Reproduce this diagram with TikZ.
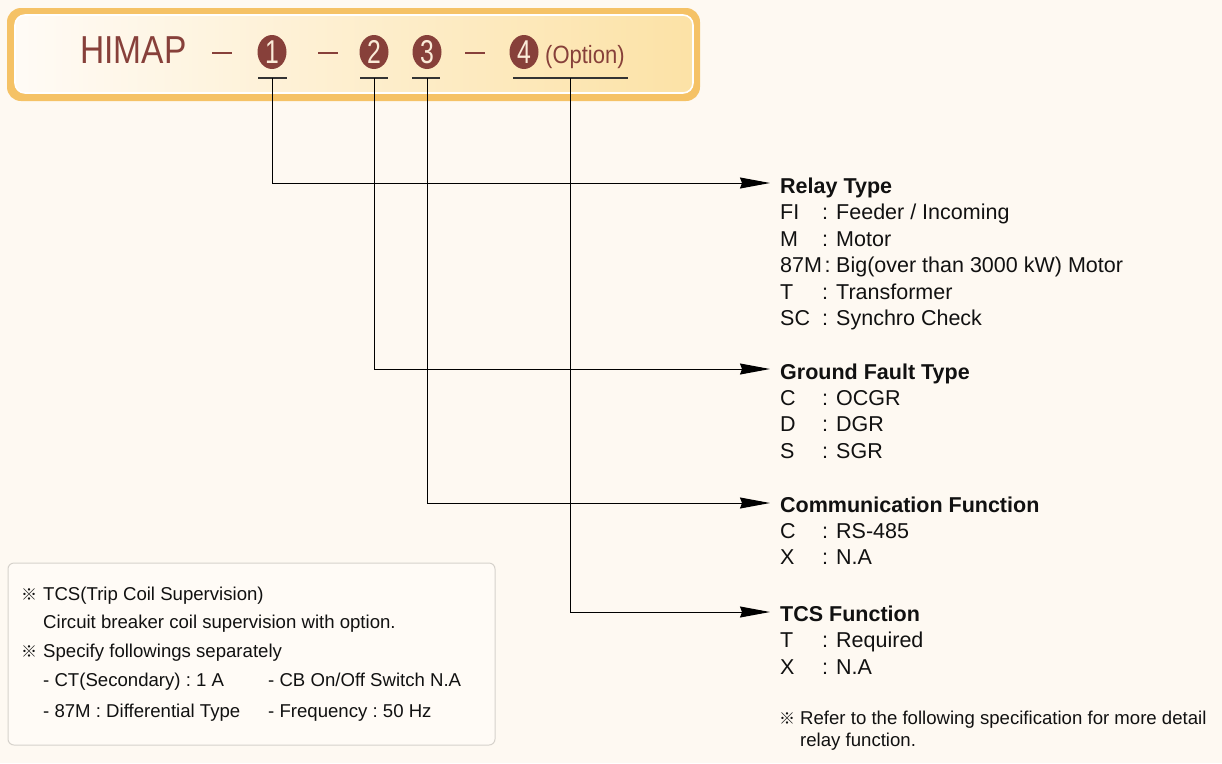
\documentclass[tikz,border=0pt]{standalone}
\usepackage{fontspec}
\usepackage{graphicx}
\setmainfont{Liberation Sans}
\newfontfamily\cjkf{Noto Sans CJK SC}
\usetikzlibrary{arrows.meta,shapes.geometric}
\frenchspacing
\definecolor{bgc}{HTML}{FEF9F2}
\definecolor{brn}{HTML}{87403A}
\definecolor{orng}{HTML}{F5C266}
\definecolor{cream}{HTML}{FBEBD8}
\definecolor{pale}{HTML}{FFFBF6}
\definecolor{yel}{HTML}{FCE2A6}
\definecolor{boxline}{HTML}{D6D2CC}
\definecolor{txt}{HTML}{111111}
\tikzset{
  txtnode/.style={anchor=base west, inner sep=0pt, text=txt},
  big/.style={txtnode, font=\fontsize{21.5}{23}\selectfont},
  bigb/.style={txtnode, font=\fontsize{21.5}{23}\selectfont\bfseries},
  small/.style={txtnode, font=\fontsize{18.6}{20}\selectfont},
  refmark/.style={txtnode, font=\fontsize{16}{18}\selectfont\cjkf},
  num/.style={ellipse, fill=brn, minimum width=29pt, minimum height=34pt, inner sep=0pt, text=cream, font=\fontsize{33}{33}\selectfont},
  uline/.style={draw=black!80, line width=1.1pt},
  conn/.style={draw=black, line width=1pt, -{Stealth[length=30pt,width=11pt,inset=2pt]}},
  dashl/.style={draw=brn, line width=1.8pt}
}
\begin{document}
\begin{tikzpicture}[x=1pt,y=-1pt]
\useasboundingbox (0,0) rectangle (1222,763);
\fill[bgc] (0,0) rectangle (1222,763);
% title frame
\fill[orng, rounded corners=14pt] (7,8) rectangle (700,101);
\draw[white, line width=1.6pt, left color=pale, right color=yel, rounded corners=10pt] (15,15) rectangle (693,93);
\node[anchor=base west, inner sep=0pt, text=brn, font=\fontsize{39}{40}\selectfont] (himap) at (80,63) {\scalebox{0.86}[1]{HIMAP}};
\draw[dashl] (212,53) -- (232,53);
\draw[dashl] (318,53) -- (338,53);
\draw[dashl] (465,53) -- (485,53);
\node[num] (c1) at (272,52) {\scalebox{0.75}[1]{1}};
\node[num] (c2) at (374,52) {\scalebox{0.75}[1]{2}};
\node[num] (c3) at (427,52) {\scalebox{0.75}[1]{3}};
\node[num] (c4) at (524,52) {\scalebox{0.75}[1]{4}};
\node[anchor=base west, inner sep=0pt, text=brn, font=\fontsize{25}{26}\selectfont] (opt) at (545,63) {\scalebox{0.88}[1]{(Option)}};
% underlines
\draw[uline] (258,78) -- (287,78);
\draw[uline] (360,78) -- (388,78);
\draw[uline] (412,78) -- (440,78);
\draw[uline] (513,78) -- (628,78);
\coordinate (u1) at (272,78);
\coordinate (u2) at (374,78);
\coordinate (u3) at (427,78);
\coordinate (u4) at (570,78);
\coordinate (a1) at (770,183);
\coordinate (a2) at (770,369);
\coordinate (a3) at (770,503);
\coordinate (a4) at (770,612);
\draw[conn] (u1) |- (a1);
\draw[conn] (u2) |- (a2);
\draw[conn] (u3) |- (a3);
\draw[conn] (u4) |- (a4);
% Relay Type
\node[bigb] (t1) at (780,193) {Relay Type};
\node[big] at (780,219.5) {FI}; \node[big] at (822,219.5) {:}; \node[big] at (836,219.5) {Feeder / Incoming};
\node[big] at (780,246) {M}; \node[big] at (822,246) {:}; \node[big] at (836,246) {Motor};
\node[big] at (780,272.5) {87M}; \node[big] at (824.5,272.5) {:}; \node[big] at (836,272.5) {Big(over than 3000 kW) Motor};
\node[big] at (780,299) {T}; \node[big] at (822,299) {:}; \node[big] at (836,299) {Transformer};
\node[big] at (780,325.5) {SC}; \node[big] at (822,325.5) {:}; \node[big] at (836,325.5) {Synchro Check};
% Ground Fault Type
\node[bigb] (t2) at (780,379) {Ground Fault Type};
\node[big] at (780,405) {C}; \node[big] at (822,405) {:}; \node[big] at (836,405) {OCGR};
\node[big] at (780,431.5) {D}; \node[big] at (822,431.5) {:}; \node[big] at (836,431.5) {DGR};
\node[big] at (780,458) {S}; \node[big] at (822,458) {:}; \node[big] at (836,458) {SGR};
% Communication
\node[bigb] (t3) at (780,512) {Communication Function};
\node[big] at (780,538) {C}; \node[big] at (822,538) {:}; \node[big] at (836,538) {RS-485};
\node[big] at (780,564.5) {X}; \node[big] at (822,564.5) {:}; \node[big] at (836,564.5) {N.A};
% TCS
\node[bigb] (t4) at (780,621) {TCS Function};
\node[big] at (780,647.5) {T}; \node[big] at (822,647.5) {:}; \node[big] at (836,647.5) {Required};
\node[big] at (780,674) {X}; \node[big] at (822,674) {:}; \node[big] at (836,674) {N.A};
% note right
\node[refmark] at (779,724) {※};
\node[small] at (800,724) {Refer to the following specification for more detail};
\node[small] at (800,746.5) {relay function.};
% bottom-left box
\draw[boxline, fill=pale, line width=1pt, rounded corners=6pt] (8,563) rectangle (495,745);
\node[refmark] at (21,600) {※};
\node[small] at (43,600) {TCS(Trip Coil Supervision)};
\node[small] at (43,628.5) {Circuit breaker coil supervision with option.};
\node[refmark] at (21,657.5) {※};
\node[small] at (43,657.5) {Specify followings separately};
\node[small] at (43,686.5) {- CT(Secondary) : 1 A};
\node[small] at (268,686.5) {- CB On/Off Switch N.A};
\node[small] at (43,717.5) {- 87M : Differential Type};
\node[small] at (268,717.5) {- Frequency : 50 Hz};
\end{tikzpicture}
\end{document}
